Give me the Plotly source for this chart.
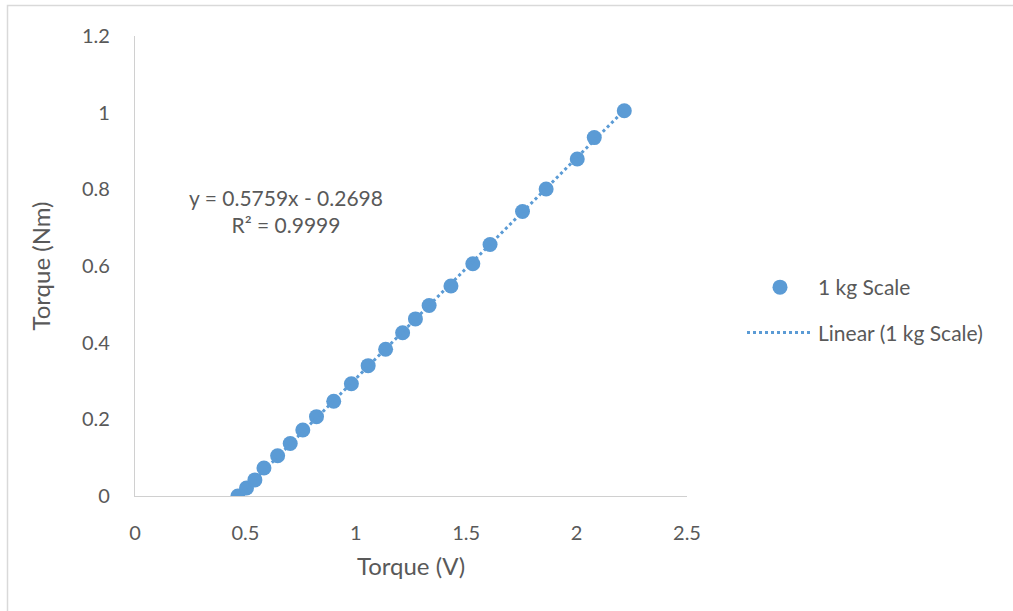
import numpy as np
import plotly.graph_objects as go

# Data
torque_v = [0.466, 0.505, 0.543, 0.584, 0.646, 0.703, 0.760, 0.822, 0.900, 0.980,
            1.056, 1.135, 1.212, 1.270, 1.332, 1.431, 1.530, 1.608, 1.755, 1.862,
            2.003, 2.080, 2.216]
torque_nm = [0.000, 0.021, 0.042, 0.073, 0.105, 0.137, 0.172, 0.207, 0.247, 0.293,
             0.340, 0.383, 0.426, 0.462, 0.497, 0.548, 0.606, 0.656, 0.742, 0.801,
             0.879, 0.935, 1.005]
SLOPE = 0.5759
INTERCEPT = -0.2698
R2 = 0.9999

x_ticks = [0, 0.5, 1, 1.5, 2, 2.5]
y_ticks = [0, 0.2, 0.4, 0.6, 0.8, 1, 1.2]

BLUE = "#5B9BD5"
TXT = "#595959"
FONT = "Lato, 'Open Sans', sans-serif"

W, H = 1013, 611
ML, MR, MT, MB = 135, 326, 36, 115
PW, PH = W - ML - MR, H - MT - MB


def px_x(p):
    return (p - ML) / PW


def px_y(p):
    return (H - MB - p) / PH


fig = go.Figure()

fig.add_trace(go.Scatter(
    x=torque_v, y=torque_nm, mode="markers", name="1 kg Scale",
    marker=dict(color=BLUE, size=15, line=dict(width=0)),
    legendgroup="a"))

xl = np.array([min(torque_v), max(torque_v)])
fig.add_trace(go.Scatter(
    x=xl, y=SLOPE * xl + INTERCEPT, mode="lines", name="Linear (1 kg Scale)",
    line=dict(color=BLUE, width=3, dash="dot"),
    legendgroup="b"))

fig.add_annotation(
    x=px_x(286), y=px_y(211), xref="paper", yref="paper",
    xanchor="center", yanchor="middle",
    text=f"y = {SLOPE}x - {abs(INTERCEPT)}<br>R² = {R2}",
    showarrow=False, align="center", font=dict(family=FONT, size=21, color=TXT))

fig.add_shape(type="rect", xref="paper", yref="paper",
              x0=px_x(7.5), x1=px_x(1030), y0=px_y(5.5), y1=px_y(640),
              line=dict(color="#d9d9d9", width=1.5), fillcolor="rgba(0,0,0,0)",
              layer="below")

axis_common = dict(
    showgrid=False, zeroline=False, showline=True, linecolor="#d0d0d0", linewidth=1.3,
    ticks="outside", tickcolor="rgba(0,0,0,0)",
    tickfont=dict(family=FONT, size=20, color=TXT),
)

fig.update_layout(
    width=W, height=H,
    margin=dict(l=ML, r=MR, t=MT, b=MB),
    paper_bgcolor="white", plot_bgcolor="white",
    font=dict(family=FONT, color=TXT),
    xaxis=dict(range=[0, 2.5], tickvals=x_ticks, ticklen=19,
               title=dict(text="Torque (V)", font=dict(family=FONT, size=24, color=TXT), standoff=15),
               **axis_common),
    yaxis=dict(range=[0, 1.2], tickvals=y_ticks, ticklen=20,
               title=dict(text="Torque (Nm)", font=dict(family=FONT, size=24, color=TXT), standoff=24),
               **axis_common),
    legend=dict(x=px_x(742), y=px_y(267), xanchor="left", yanchor="top",
                traceorder="grouped", tracegroupgap=15, itemwidth=66,
                font=dict(family=FONT, size=21, color=TXT), bgcolor="rgba(0,0,0,0)"),
    showlegend=True,
)

fig.write_html("out.html")
